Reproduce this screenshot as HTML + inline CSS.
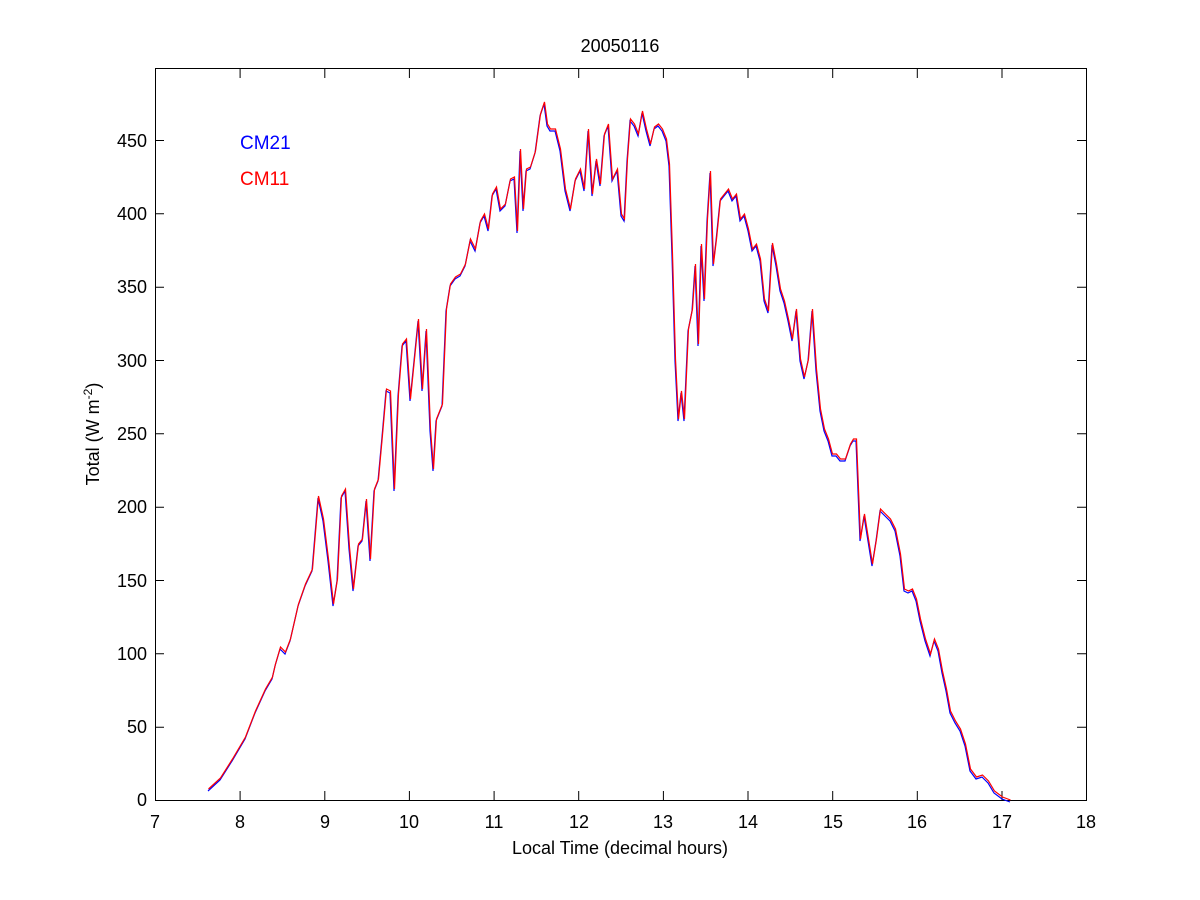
<!DOCTYPE html>
<html><head><meta charset="utf-8"><style>
html,body{margin:0;padding:0;background:#fff;}
svg{display:block;font-family:"Liberation Sans",Arial,sans-serif;}
</style></head><body>
<svg width="1200" height="900" viewBox="0 0 1200 900">
<rect width="1200" height="900" fill="#fff"/>
<g stroke="#000" stroke-width="1" fill="none">
<rect x="155.5" y="68.5" width="931" height="732"/>
<path d="M155.5 800v-9M240.1 800v-9M324.8 800v-9M409.4 800v-9M494.1 800v-9M578.7 800v-9M663.4 800v-9M748 800v-9M832.7 800v-9M917.3 800v-9M1002 800v-9M1086.5 800v-9
M155.5 69v9M240.1 69v9M324.8 69v9M409.4 69v9M494.1 69v9M578.7 69v9M663.4 69v9M748 69v9M832.7 69v9M917.3 69v9M1002 69v9M1086.5 69v9
M155 800.5h9M155 727.2h9M155 653.8h9M155 580.5h9M155 507.2h9M155 433.8h9M155 360.5h9M155 287.2h9M155 213.8h9M155 140.5h9
M1086 800.5h-9M1086 727.2h-9M1086 653.8h-9M1086 580.5h-9M1086 507.2h-9M1086 433.8h-9M1086 360.5h-9M1086 287.2h-9M1086 213.8h-9M1086 140.5h-9"/>
</g>
<g font-size="18" fill="#000" text-anchor="middle">
<text x="155" y="828">7</text><text x="240" y="828">8</text><text x="325" y="828">9</text><text x="409" y="828">10</text><text x="494" y="828">11</text><text x="579" y="828">12</text><text x="663" y="828">13</text><text x="748" y="828">14</text><text x="833" y="828">15</text><text x="917" y="828">16</text><text x="1002" y="828">17</text><text x="1086" y="828">18</text>
</g>
<g font-size="18" fill="#000" text-anchor="end">
<text x="147" y="806">0</text><text x="147" y="733">50</text><text x="147" y="660">100</text><text x="147" y="587">150</text><text x="147" y="513">200</text><text x="147" y="440">250</text><text x="147" y="367">300</text><text x="147" y="293">350</text><text x="147" y="220">400</text><text x="147" y="147">450</text>
</g>
<text x="620" y="52" font-size="18" text-anchor="middle">20050116</text>
<text x="620" y="854" font-size="18" text-anchor="middle">Local Time (decimal hours)</text>
<text transform="translate(99,434) rotate(-90)" font-size="18" text-anchor="middle">Total (W m<tspan dy="-7" font-size="12">-2</tspan><tspan dy="7">)</tspan></text>
<text x="240" y="149" font-size="19" fill="#0000ff">CM21</text>
<text x="240" y="185" font-size="19" fill="#ff0000">CM11</text>
<defs><polyline id="c" fill="none" stroke-width="1.2" points="208,790 220,779 232,760 245,738 255,712 265,690 272,678 275,665 280,648 285,653 290,640 298,605 305,585 312,570 318,497 323,520 328,560 333,605 337,580 341,497 345,490 349,548 353,590 358,545 362,540 366,500 370,560 374,490 378,480 382,436 386,390 390,392 394,490 398,395 402,345 406,340 410,400 414,360 418,320 422,390 426,330 430,430 433,470 436,420 442,405 446,310 450,285 455,278 460,275 465,265 470,240 475,250 480,222 484,215 488,230 492,195 496,188 500,210 505,205 510,180 514,178 517,232 520,150 523,210 526,170 530,168 535,152 540,115 544,103 547,125 550,130 555,130 560,150 565,190 570,210 575,180 580,170 584,190 588,130 592,195 596,160 600,185 604,135 608,125 612,180 617,170 621,215 624,220 627,160 630,120 634,125 638,135 642,112 646,130 650,145 654,128 658,125 662,130 666,140 669,165 672,255 675,360 678,420 681,392 684,420 688,330 692,310 695,265 698,345 701,245 704,300 707,220 710,172 713,265 716,240 720,200 724,195 728,190 732,200 736,195 740,220 744,215 748,230 752,250 756,245 760,260 764,300 768,312 772,244 776,265 780,290 784,302 788,320 792,340 796,310 800,360 804,378 808,360 812,310 816,370 820,410 824,430 828,440 832,455 836,455 840,460 845,460 850,445 853,440 856,440 860,540 864,515 868,540 872,565 876,540 880,510 885,515 890,520 895,530 900,555 904,590 908,592 912,590 916,600 920,620 925,640 930,655 934,640 938,650 942,672 946,690 950,712 955,722 960,730 965,745 970,770 976,778 982,776 988,782 994,792 1002,798 1010,801"/></defs>
<use href="#c" stroke="#0000ff" transform="translate(0,1)"/>
<use href="#c" stroke="#ff0000" transform="translate(0.5,-1)"/>
</svg>
</body></html>
